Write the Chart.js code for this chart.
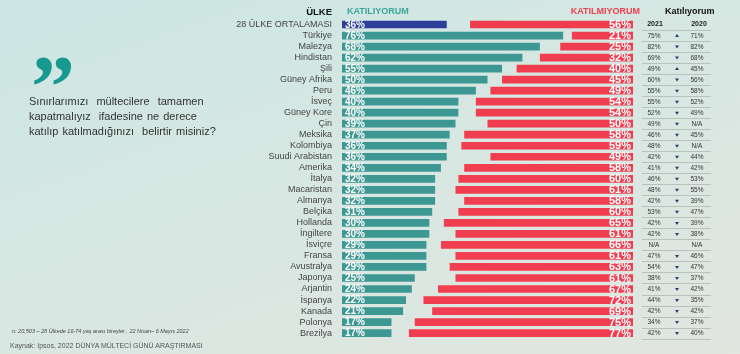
<!DOCTYPE html>
<html lang="tr">
<head>
<meta charset="utf-8">
<script src="https://cdn.jsdelivr.net/npm/chart.js@4.4.1/dist/chart.umd.min.js"></script>
<style>
  html, body { margin: 0; padding: 0; }
  body {
    width: 740px; height: 354px; overflow: hidden; position: relative;
    background: linear-gradient(160deg, #cbe6e3 0%, #d7e7e2 45%, #e1e6df 100%);
    font-family: "Liberation Sans", Arial, sans-serif;
  }
  #chart { position: absolute; left: 0; top: 0; }
  .quote { position: absolute; left: 31px; top: 43px; color: #17998f; font: bold 88px/88px "Liberation Serif", serif; }
  .question { position: absolute; left: 29px; top: 94px; font-size: 11px; line-height: 15px; color: #333; word-spacing: 1px; }
  .note { position: absolute; left: 12px; top: 328px; font-size: 5.5px; font-style: italic; color: #444; }
  .source { position: absolute; left: 10px; top: 342px; font-size: 7px; color: #555; }
</style>
</head>
<body>
<canvas id="chart" width="740" height="354"></canvas>
<div class="quote">&rdquo;</div>
<div class="question">Sınırlarımızı&nbsp; mültecilere&nbsp; tamamen<br>kapatmalıyız&nbsp; ifadesine ne derece<br>katılıp katılmadığınızı&nbsp; belirtir misiniz?</div>
<div class="note">n: 20,503 – 28 Ülkede 16-74 yaş arası bireyler , 22 Nisan– 6 Mayıs 2022</div>
<div class="source">Kaynak: Ipsos, 2022 DÜNYA MÜLTECİ GÜNÜ ARAŞTIRMASI</div>
<script>
  const countries = ['28 ÜLKE ORTALAMASI', 'Türkiye', 'Malezya', 'Hindistan', 'Şili', 'Güney Afrika', 'Peru',
    'İsveç', 'Güney Kore', 'Çin', 'Meksika', 'Kolombiya', 'Suudi Arabistan', 'Amerika', 'İtalya', 'Macaristan',
    'Almanya', 'Belçika', 'Hollanda', 'İngiltere', 'İsviçre', 'Fransa', 'Avustralya', 'Japonya', 'Arjantin',
    'İspanya', 'Kanada', 'Polonya', 'Brezilya'];
  const agree = [36, 76, 68, 62, 55, 50, 46, 40, 40, 39, 37, 36, 36, 34, 32, 32, 32, 31, 30, 30, 29, 29, 29, 25, 24, 22, 21, 17, 17];
  const disagree = [56, 21, 25, 32, 40, 45, 49, 54, 54, 50, 58, 59, 49, 58, 60, 61, 58, 60, 65, 61, 66, 61, 63, 61, 67, 72, 69, 75, 77];
  // Katılıyorum 2021 / 2020 (null = N/A), first row is the header row
  const agree2021 = [null, 75, 82, 69, 49, 60, 55, 55, 52, 49, 46, 48, 42, 41, 46, 48, 42, 53, 42, 42, null, 47, 54, 38, 41, 44, 42, 34, 42];
  const agree2020 = [null, 71, 82, 68, 45, 56, 58, 52, 49, null, 45, null, 44, 42, 53, 55, 39, 47, 39, 38, null, 46, 47, 37, 42, 35, 42, 37, 40];
  const trend = ['', 'up', 'down', 'down', 'up', 'down', 'down', 'down', 'down', 'down', 'down', 'down', 'down', 'down',
    'down', 'down', 'down', 'down', 'down', 'down', '', 'down', 'down', 'down', 'down', 'down', 'down', 'down', 'down'];

  const TEAL = '#3d9893';
  const BLUE = '#2d3f98';
  const RED = '#f03e50';
  const FONT = '"Liberation Sans", Arial, sans-serif';

  const agreeBars = agree.map(v => [0, v]);
  const disagreeBars = disagree.map(v => [100 - v, 100]);

  const valueLabels = {
    id: 'valueLabels',
    afterDatasetsDraw(chart) {
      const ctx = chart.ctx;
      ctx.save();
      ctx.fillStyle = '#fff';
      ctx.textBaseline = 'middle';
      chart.getDatasetMeta(0).data.forEach((bar, i) => {
        ctx.font = 'bold 10px ' + FONT;
        ctx.textAlign = 'left';
        ctx.fillText(agree[i] + '%', Math.min(bar.x, bar.base) + 3, bar.y + 0.5);
      });
      chart.getDatasetMeta(1).data.forEach((bar, i) => {
        ctx.font = 'bold 11px ' + FONT;
        ctx.textAlign = 'right';
        ctx.fillText(disagree[i] + '%', Math.max(bar.x, bar.base) - 2, bar.y + 0.5);
      });
      ctx.restore();
    }
  };

  const sideTable = {
    id: 'sideTable',
    afterDraw(chart) {
      const ctx = chart.ctx;
      const y = chart.scales.y;
      const area = chart.chartArea;
      const step = y.getPixelForValue(1) - y.getPixelForValue(0);
      ctx.save();
      ctx.textBaseline = 'middle';

      // column headers
      ctx.font = 'bold 9.5px ' + FONT;
      ctx.fillStyle = '#111';
      ctx.textAlign = 'right';
      ctx.fillText('ÜLKE', area.left - 10, 12);
      ctx.font = 'bold 9px ' + FONT;
      ctx.textAlign = 'left';
      ctx.fillStyle = '#3aa59c';
      ctx.fillText('KATILIYORUM', area.left + 5, 12);
      ctx.textAlign = 'right';
      ctx.fillStyle = RED;
      ctx.fillText('KATILMIYORUM', 640, 12);
      ctx.textAlign = 'left';
      ctx.fillStyle = '#111';
      ctx.fillText('Katılıyorum', 665, 12);

      countries.forEach((c, i) => {
        const cy = y.getPixelForValue(i);
        const ly = Math.round(cy + step / 2) + 0.5;
        ctx.strokeStyle = '#b7c2be';
        ctx.lineWidth = 1;
        ctx.beginPath();
        ctx.moveTo(642, ly);
        ctx.lineTo(711, ly);
        ctx.stroke();

        if (i === 0) {
          ctx.font = 'bold 7px ' + FONT;
          ctx.fillStyle = '#222';
          ctx.textAlign = 'center';
          ctx.fillText('2021', 655, cy);
          ctx.fillText('2020', 699, cy);
          return;
        }
        ctx.font = '6.5px ' + FONT;
        ctx.fillStyle = '#333';
        ctx.textAlign = 'center';
        ctx.fillText(agree2021[i] == null ? 'N/A' : agree2021[i] + '%', 654, cy + 0.5);
        ctx.fillText(agree2020[i] == null ? 'N/A' : agree2020[i] + '%', 697, cy + 0.5);

        if (trend[i]) {
          ctx.fillStyle = '#2a3d6e';
          ctx.beginPath();
          if (trend[i] === 'up') {
            ctx.moveTo(675, cy + 1.5); ctx.lineTo(679, cy + 1.5); ctx.lineTo(677, cy - 1.5);
          } else {
            ctx.moveTo(675, cy - 1); ctx.lineTo(679, cy - 1); ctx.lineTo(677, cy + 2);
          }
          ctx.closePath();
          ctx.fill();
        }
      });
      ctx.restore();
    }
  };

  new Chart(document.getElementById('chart'), {
    type: 'bar',
    data: {
      labels: countries,
      datasets: [
        {
          label: 'KATILIYORUM',
          data: agreeBars,
          backgroundColor: countries.map((c, i) => i === 0 ? BLUE : TEAL),
          grouped: false,
          barPercentage: 0.7,
          categoryPercentage: 1
        },
        {
          label: 'KATILMIYORUM',
          data: disagreeBars,
          backgroundColor: RED,
          grouped: false,
          barPercentage: 0.7,
          categoryPercentage: 1
        }
      ]
    },
    options: {
      indexAxis: 'y',
      responsive: false,
      animation: false,
      layout: { padding: { top: 19, bottom: 3, right: 107, left: 0 } },
      plugins: {
        legend: { display: false },
        tooltip: { enabled: false }
      },
      scales: {
        x: { display: false, min: 0, max: 100 },
        y: {
          afterFit(scale) { scale.width = 342; },
          grid: { display: false, drawTicks: false },
          border: { display: false },
          ticks: { color: '#444', padding: 10, font: { family: FONT, size: 9 }, autoSkip: false }
        }
      }
    },
    plugins: [valueLabels, sideTable]
  });
</script>
</body>
</html>
